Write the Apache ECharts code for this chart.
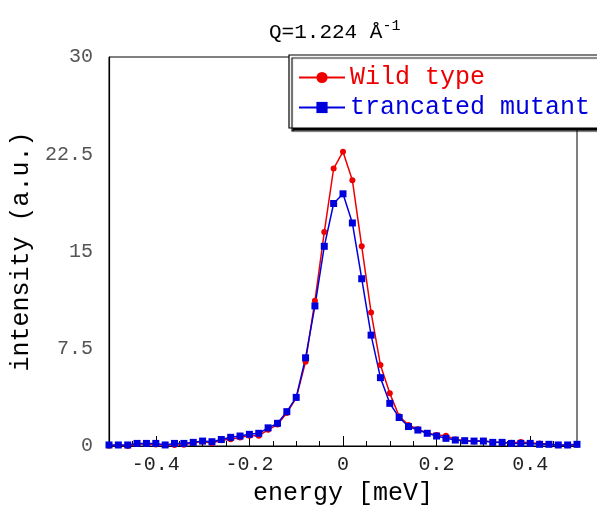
<!DOCTYPE html>
<html><head><meta charset="utf-8">
<script src="https://cdn.jsdelivr.net/npm/echarts@6/dist/echarts.min.js"></script>
<style>html,body{margin:0;padding:0;background:#fff}#c{width:597px;height:511px}</style>
</head><body><div id="c"></div>
<script>
const energy = [-0.50,-0.48,-0.46,-0.44,-0.42,-0.40,-0.38,-0.36,-0.34,-0.32,-0.30,-0.28,-0.26,-0.24,-0.22,-0.20,-0.18,-0.16,-0.14,-0.12,-0.10,-0.08,-0.06,-0.04,-0.02,0.00,0.02,0.04,0.06,0.08,0.10,0.12,0.14,0.16,0.18,0.20,0.22,0.24,0.26,0.28,0.30,0.32,0.34,0.36,0.38,0.40,0.42,0.44,0.46,0.48,0.50];
const wildType = [0.02,0.05,0.00,0.15,0.15,0.12,0.08,0.08,0.10,0.25,0.35,0.22,0.45,0.52,0.65,0.80,0.80,1.25,1.65,2.55,3.70,6.50,11.2,16.5,21.4,22.7,20.5,15.4,10.3,6.25,4.06,2.30,1.62,1.30,1.00,0.85,0.80,0.50,0.40,0.35,0.40,0.30,0.25,0.25,0.30,0.25,0.20,0.15,0.05,0.05,0.10];
const mutant = [0.08,0.08,0.08,0.20,0.20,0.20,0.08,0.20,0.20,0.28,0.38,0.33,0.50,0.67,0.77,0.90,0.98,1.40,1.75,2.65,3.75,6.80,10.8,15.4,18.7,19.45,17.2,12.9,8.55,5.27,3.29,2.20,1.50,1.23,0.98,0.77,0.59,0.46,0.41,0.38,0.38,0.28,0.28,0.20,0.20,0.20,0.13,0.13,0.08,0.08,0.13];
const xLabelValues = [-0.4,-0.2,0,0.2,0.4];
const xMinorTickValues = [-0.45,-0.35,-0.3,-0.25,-0.15,-0.1,-0.05,0.05,0.1,0.15,0.25,0.3,0.35,0.45];
const seriesNames = ['Wild type','trancated mutant'];
const colors = ['#ee0000','#0000dd'];

const chart = echarts.init(document.getElementById('c'), null, {renderer:'canvas'});
const mono = 'Liberation Mono, DejaVu Sans Mono, monospace';
chart.setOption({
  animation:false,
  backgroundColor:'#fff',
  title:{
    text:'Q=1.224 Å{sup|-1}', left:264, top:14,
    textStyle:{fontFamily:mono, fontSize:21, fontWeight:'normal', color:'#000',
      rich:{sup:{fontFamily:mono, fontSize:15, color:'#000', verticalAlign:'top', padding:[0,0,12,0]}}}
  },
  legend:{
    orient:'vertical', left:289, top:55, z:8,
    padding:[10,30,8,9], itemGap:5, itemWidth:46, itemHeight:14,
    backgroundColor:'#fff', borderColor:'#000', borderWidth:1.2,
    shadowColor:'rgba(0,0,0,1)', shadowBlur:1, shadowOffsetX:3, shadowOffsetY:3,
    textStyle:{fontFamily:mono, fontSize:25},
    data:[
      {name:seriesNames[0], textStyle:{color:colors[0]}},
      {name:seriesNames[1], textStyle:{color:colors[1]}}
    ]
  },
  grid:{left:109, right:20, top:57, bottom:65, show:true, borderColor:'#000', borderWidth:1, containLabel:false},
  xAxis:[{
    type:'value', min:-0.5, max:0.5,
    name:'energy [meV]', nameLocation:'middle', nameGap:35,
    nameTextStyle:{fontFamily:mono, fontSize:25, color:'#000'},
    axisLine:{show:true, onZero:false, lineStyle:{color:'#000', width:1.2}},
    axisTick:{show:true, inside:true, length:10, customValues:xLabelValues, lineStyle:{color:'#000'}},
    axisLabel:{customValues:xLabelValues, fontFamily:mono, fontSize:20, color:'#222', margin:9,
      formatter:v=>String(Math.round(v*10)/10)},
    splitLine:{show:false}
  },{
    type:'value', min:-0.5, max:0.5, position:'bottom',
    axisLine:{show:false, onZero:false},
    axisTick:{show:true, inside:true, length:5, customValues:xMinorTickValues, lineStyle:{color:'#000'}},
    axisLabel:{show:false}, splitLine:{show:false}
  }],
  yAxis:{
    type:'value', min:0, max:30, interval:7.5,
    name:'intensity (a.u.)', nameLocation:'middle', nameGap:70, nameRotate:90,
    nameTextStyle:{fontFamily:mono, fontSize:25, color:'#000'},
    axisLine:{show:true, onZero:false, lineStyle:{color:'#000', width:1.2}},
    axisTick:{show:false},
    axisLabel:{fontFamily:mono, fontSize:20, color:'#555', margin:16,
      formatter:v=>String(v)},
    splitLine:{show:false}
  },
  series:[
    {name:seriesNames[0], type:'line', xAxisIndex:0,
     data:energy.map((e,i)=>[e,wildType[i]]),
     symbol:'circle', symbolSize:6, showAllSymbol:true,
     lineStyle:{color:colors[0], width:1.5}, itemStyle:{color:colors[0]}},
    {name:seriesNames[1], type:'line', xAxisIndex:0,
     data:energy.map((e,i)=>[e,mutant[i]]),
     symbol:'rect', symbolSize:7, showAllSymbol:true,
     lineStyle:{color:colors[1], width:1.5}, itemStyle:{color:colors[1]}}
  ]
});
</script></body></html>
